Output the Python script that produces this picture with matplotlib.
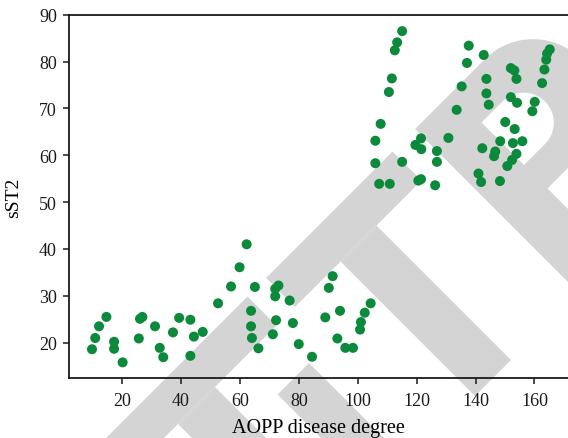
#!/usr/bin/env python3
"""Scatter of sST2 against AOPP disease degree."""

import matplotlib

matplotlib.use("Agg")
import matplotlib.pyplot as plt
import numpy as np
from matplotlib.patches import Polygon

# data
aopp = [9.8, 10.9, 12.2, 14.7, 17.3, 17.3, 20.2, 25.7, 26.1, 26.9, 31.2, 32.8,
        34.0, 37.3, 39.4, 43.2, 44.4, 47.4, 43.2, 52.6, 57.0, 59.9, 62.3, 65.1,
        73.1, 72.0, 72.0, 76.9, 63.8, 63.8, 64.1, 66.3, 72.3, 71.2, 78.0, 80.0,
        84.5, 91.5, 90.2, 89.0, 94.0, 93.1, 95.8, 98.4, 104.4, 102.4, 101.1, 100.8,
        115.1, 113.4, 112.6, 111.6, 110.6, 107.8, 106.0, 106.0, 115.1, 107.3,
        110.9, 121.5, 119.6, 121.6, 126.9, 126.9, 120.6, 121.5, 126.3, 130.8,
        133.6, 135.3, 137.1, 137.7, 142.8, 143.7, 143.7, 144.5, 152.0, 153.2,
        153.9, 152.0, 154.1, 160.1, 159.3, 150.1, 153.3, 148.4, 152.7, 155.9,
        142.3, 146.7, 146.3, 153.9, 152.4, 150.8, 141.0, 141.9, 148.3, 165.2,
        164.3, 164.0, 163.4, 162.6]
sst2 = [18.6, 21.0, 23.5, 25.5, 20.2, 18.7, 15.8, 20.9, 25.1, 25.5, 23.5, 18.9,
        16.9, 22.2, 25.3, 24.9, 21.3, 22.3, 17.2, 28.4, 32.0, 36.1, 41.0, 31.9,
        32.2, 31.5, 29.9, 29.0, 26.8, 23.5, 21.0, 18.8, 24.8, 21.8, 24.2, 19.7,
        17.0, 34.2, 31.7, 25.4, 26.8, 20.9, 18.9, 18.9, 28.4, 26.4, 24.4, 22.8,
        86.5, 84.1, 82.4, 76.4, 73.5, 66.7, 63.1, 58.3, 58.6, 53.9,
        53.9, 63.6, 62.2, 61.3, 60.9, 58.6, 54.6, 54.9, 53.6, 63.7,
        69.7, 74.7, 79.7, 83.4, 81.4, 76.3, 73.2, 70.8, 78.6, 78.1,
        76.3, 72.4, 71.2, 71.4, 69.4, 67.1, 65.6, 63.0, 62.6, 63.0,
        61.5, 60.8, 59.8, 60.3, 59.0, 57.7, 56.1, 54.3, 54.5, 82.6,
        81.7, 80.4, 78.3, 75.4]
x_ticks = [20, 40, 60, 80, 100, 120, 140, 160]
y_ticks = [20, 30, 40, 50, 60, 70, 80, 90]

W, H = 568, 439


def wm_points(pts):
    """Watermark outline given in rotated pixel frame (d = x - y, s = x + y)."""
    pts = np.asarray(pts, dtype=float)
    d, s = pts[:, 0], pts[:, 1]
    px = (s + d) / 2
    py = (s - d) / 2
    return np.column_stack([px / W, 1 - py / H])


def rect(d0, d1, s0, s1):
    return [(d0, s0), (d1, s0), (d1, s1), (d0, s1)]


def half_disc(dc, sc, r, n=40):
    t = np.linspace(-np.pi / 2, np.pi / 2, n)
    return list(zip(dc + r * np.cos(t), sc + r * np.sin(t)))


def add_watermark(fig):
    grey = "#d4d4d4"
    shapes = [
        rect(-420, -50, 545, 603),
        rect(-247, -173, 603, 900),
        rect(-118, -55, 673, 900),
        rect(-13, 240, 545, 603),
        rect(78, 150, 603, 872),
        [(285, 545)] + half_disc(425, 641, 96) + [(358, 737), (358, 872), (285, 872)],
    ]
    for sh in shapes:
        fig.add_artist(Polygon(wm_points(sh), closed=True, transform=fig.transFigure,
                               facecolor=grey, edgecolor="none", zorder=-2))
    hole = [(358, 605)] + half_disc(400, 647.5, 42.5) + [(358, 690)]
    fig.add_artist(Polygon(wm_points(hole), closed=True, transform=fig.transFigure,
                           facecolor="white", edgecolor="none", zorder=-1))


def make_plot(output_filename):
    plt.rcParams["font.family"] = ["Liberation Serif", "DejaVu Serif"]
    fig = plt.figure(figsize=(W / 100, H / 100), dpi=100)
    add_watermark(fig)

    left, right, top, bottom = 69.3, 568, 15.7, 379.3
    ax = fig.add_axes([left / W, 1 - bottom / H, (right - left) / W, (bottom - top) / H])
    ax.patch.set_alpha(0)

    ax.scatter(aopp, sst2, s=52, color="#0a8a3a", edgecolors="none", zorder=3)

    ax.set_xlim(2.1, 171.4)
    ax.set_ylim(12.4, 90)
    ax.set_xticks(x_ticks)
    ax.set_yticks(y_ticks)
    ax.spines["right"].set_visible(False)
    for side in ("left", "bottom", "top"):
        ax.spines[side].set_linewidth(1.3)
        ax.spines[side].set_color("#1a1a1a")
    ax.tick_params(axis="both", direction="out", length=4, width=1.1,
                   labelsize=13, colors="#1a1a1a")
    ax.tick_params(axis="x", pad=6)
    ax.tick_params(axis="y", pad=5)
    ax.set_xlabel("AOPP disease degree", fontsize=14.5, labelpad=6)
    ax.set_ylabel("sST2", fontsize=14, labelpad=12)

    fig.savefig(output_filename, dpi=100, facecolor="white")


if __name__ == "__main__":
    make_plot("out.png")
